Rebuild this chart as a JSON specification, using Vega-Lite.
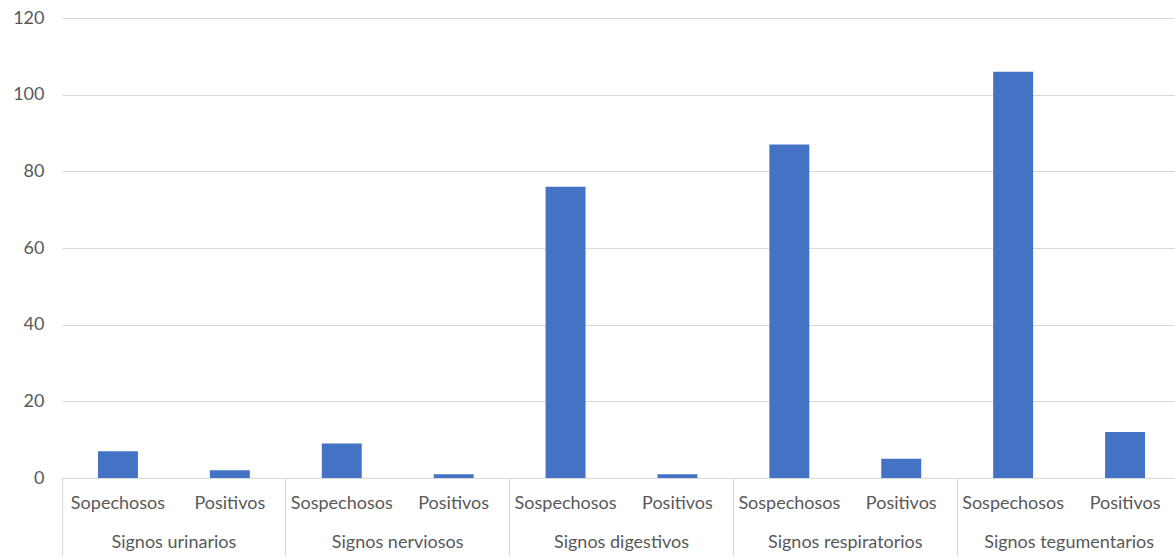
{
  "$schema": "https://vega.github.io/schema/vega-lite/v6.json",
  "width": 1119,
  "height": 460,
  "autosize": {"type": "none"},
  "padding": {"left": 62, "top": 18, "right": 0, "bottom": 80},
  "config": {
    "view": {"stroke": null},
    "font": "Lato",
    "axis": {"labelColor": "#595959", "labelFontSize": 18, "labelFont": "Lato"}
  },
  "data": {
    "values": [
      {"group": "Signos urinarios", "cat": "Sopechosos", "id": "Signos urinarios|Sopechosos", "value": 7},
      {"group": "Signos urinarios", "cat": "Positivos", "id": "Signos urinarios|Positivos", "value": 2},
      {"group": "Signos nerviosos", "cat": "Sospechosos", "id": "Signos nerviosos|Sospechosos", "value": 9},
      {"group": "Signos nerviosos", "cat": "Positivos", "id": "Signos nerviosos|Positivos", "value": 1},
      {"group": "Signos digestivos", "cat": "Sospechosos", "id": "Signos digestivos|Sospechosos", "value": 76},
      {"group": "Signos digestivos", "cat": "Positivos", "id": "Signos digestivos|Positivos", "value": 1},
      {"group": "Signos respiratorios", "cat": "Sospechosos", "id": "Signos respiratorios|Sospechosos", "value": 87},
      {"group": "Signos respiratorios", "cat": "Positivos", "id": "Signos respiratorios|Positivos", "value": 5},
      {"group": "Signos tegumentarios", "cat": "Sospechosos", "id": "Signos tegumentarios|Sospechosos", "value": 106},
      {"group": "Signos tegumentarios", "cat": "Positivos", "id": "Signos tegumentarios|Positivos", "value": 12}
    ]
  },
  "layer": [
    {
      "mark": {"type": "bar", "color": "#4472C4"},
      "encoding": {
        "x": {
          "field": "id", "type": "nominal", "sort": null,
          "scale": {"paddingInner": 0.643, "paddingOuter": 0.3215},
          "axis": {"title": null, "labelExpr": "split(datum.value,'|')[1]", "labelAngle": 0, "ticks": false, "domainColor": "#d9d9d9", "labelPadding": 16}
        },
        "y": {
          "field": "value", "type": "quantitative",
          "scale": {"domain": [0, 120]},
          "axis": {"title": null, "values": [0, 20, 40, 60, 80, 100, 120], "domain": false, "ticks": false, "gridColor": "#d9d9d9", "labelPadding": 18}
        }
      }
    },
    {
      "mark": {"type": "bar", "opacity": 0},
      "encoding": {
        "x": {
          "field": "group", "type": "nominal", "sort": null,
          "scale": {"paddingInner": 0, "paddingOuter": 0},
          "axis": {"orient": "bottom", "title": null, "labelAngle": 0, "domain": false, "ticks": true, "tickSize": 77, "tickColor": "#d9d9d9", "bandPosition": 0, "labelPadding": -22}
        },
        "y": {"field": "value", "type": "quantitative"}
      }
    }
  ],
  "resolve": {"scale": {"x": "independent"}, "axis": {"x": "independent"}}
}
